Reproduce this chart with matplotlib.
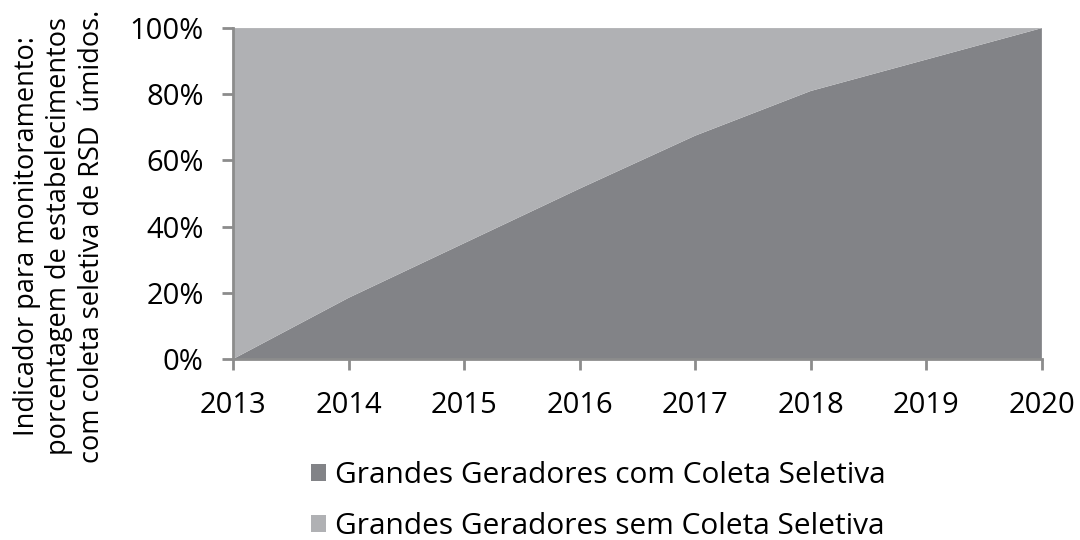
import matplotlib
matplotlib.use("Agg")
import matplotlib.pyplot as plt
from matplotlib.patches import Patch
from matplotlib.ticker import FuncFormatter

plt.rcParams['font.family'] = ['Open Sans', 'DejaVu Sans']

years = [2013, 2014, 2015, 2016, 2017, 2018, 2019, 2020]
com_coleta = [0, 18.5, 35, 51.5, 67.5, 81, 90.5, 100]
sem_coleta = [100 - v for v in com_coleta]
series_names = ["Grandes Geradores com Coleta Seletiva",
                "Grandes Geradores sem Coleta Seletiva"]
ylabel_text = ("Indicador para monitoramento:\n"
               "porcentagem de estabelecimentos\n"
               "com coleta seletiva de RSD  úmidos.")

dark = "#828387"
light = "#b0b1b4"
axis_col = "#8c8c8c"

fig = plt.figure(figsize=(10.8, 5.4), dpi=100)
ax = fig.add_axes([0.2157, 0.335, 0.749, 0.613])
ax.stackplot(years, com_coleta, sem_coleta, colors=[dark, light], linewidth=0)
ax.set_xlim(2013, 2020)
ax.set_ylim(0, 100)
ax.set_xticks(years)
ax.set_yticks([0, 20, 40, 60, 80, 100])
ax.yaxis.set_major_formatter(FuncFormatter(lambda v, p: f"{int(v)}%"))
for s in ["top", "right"]:
    ax.spines[s].set_visible(False)
for s in ["left", "bottom"]:
    ax.spines[s].set_color(axis_col)
    ax.spines[s].set_linewidth(2)
ax.tick_params(axis='both', colors=axis_col, width=2, length=8, labelcolor="black",
               labelsize=21)
ax.tick_params(axis='x', pad=15)
ax.tick_params(axis='y', pad=13)

fig.text(0.055, 0.563, ylabel_text, rotation=90, ha='center', va='center',
         multialignment='center', fontsize=19.5, linespacing=1.2)

handles = [Patch(facecolor=dark, edgecolor='none'), Patch(facecolor=light, edgecolor='none')]
fig.legend(handles, series_names, loc='center left', bbox_to_anchor=(0.288, 0.072),
           frameon=False, fontsize=21.5, handlelength=0.5, handleheight=0.5,
           handletextpad=0.3, labelspacing=0.75, borderpad=0, borderaxespad=0, ncol=1)

fig.savefig("out.png", dpi=100)
